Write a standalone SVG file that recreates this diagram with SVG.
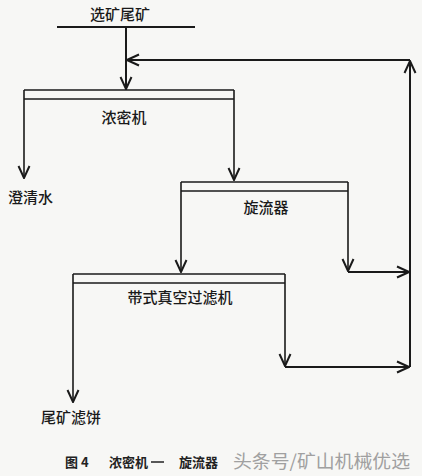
<svg xmlns="http://www.w3.org/2000/svg" width="422" height="476" viewBox="0 0 422 476">
<style>
.bg{fill:#f7f7f5}
.ln{fill:none;stroke:#1a1a1a;stroke-width:2}
.bx{fill:none;stroke:#1a1a1a;stroke-width:1.6}
.t{font-family:"Noto Sans CJK SC","Noto Sans",sans-serif;font-size:15px;fill:#1a1a1a;font-weight:500}
.cap{font-family:"Noto Sans CJK SC","Noto Sans",sans-serif;font-size:13px;fill:#222;font-weight:bold}
.wm{font-family:"Noto Sans CJK SC","Noto Sans",sans-serif;font-size:18px;fill:#a0a0a0}
</style>
<defs>
<marker id="ah" viewBox="0 0 14 14" refX="13" refY="7" markerWidth="14" markerHeight="14" markerUnits="userSpaceOnUse" orient="auto">
<path d="M1,1.5 L13,7 L1,12.5" fill="none" stroke="#1a1a1a" stroke-width="2"/>
</marker>
</defs>
<rect class="bg" x="0" y="0" width="422" height="476"/>
<g id="feed">
<line class="ln" x1="57" y1="27" x2="195" y2="27"/>
<text class="t" x="120" y="20" text-anchor="middle">选矿尾矿</text>
</g>
<g id="thickener">
<line class="bx" x1="24" y1="90" x2="234" y2="90"/>
<line class="bx" x1="24" y1="99" x2="234" y2="99"/>
<text class="t" x="124" y="123" text-anchor="middle">浓密机</text>
</g>
<g id="clear-water">
<text class="t" x="8" y="203">澄清水</text>
</g>
<g id="cyclone">
<line class="bx" x1="181" y1="182" x2="348" y2="182"/>
<line class="bx" x1="181" y1="191" x2="348" y2="191"/>
<text class="t" x="266" y="213" text-anchor="middle">旋流器</text>
</g>
<g id="filter">
<line class="bx" x1="73" y1="274" x2="285" y2="274"/>
<line class="bx" x1="73" y1="283" x2="285" y2="283"/>
<text class="t" x="180" y="303" text-anchor="middle">带式真空过滤机</text>
</g>
<g id="cake">
<text class="t" x="41" y="423">尾矿滤饼</text>
</g>
<g id="connectors">
<line class="ln" x1="126" y1="27" x2="126" y2="89" marker-end="url(#ah)"/>
<line class="ln" x1="410" y1="60" x2="127" y2="60" marker-end="url(#ah)"/>
<line class="ln" x1="410" y1="367" x2="410" y2="61" marker-end="url(#ah)"/>
<line class="bx" x1="24" y1="90" x2="24" y2="178" marker-end="url(#ah)"/>
<line class="bx" x1="234" y1="90" x2="234" y2="180" marker-end="url(#ah)"/>
<line class="bx" x1="181" y1="182" x2="181" y2="272" marker-end="url(#ah)"/>
<line class="bx" x1="348" y1="182" x2="348" y2="271" marker-end="url(#ah)"/>
<line class="ln" x1="348" y1="272" x2="409" y2="272" marker-end="url(#ah)"/>
<line class="bx" x1="73" y1="274" x2="73" y2="402" marker-end="url(#ah)"/>
<line class="bx" x1="285" y1="274" x2="285" y2="366" marker-end="url(#ah)"/>
<line class="ln" x1="285" y1="367" x2="409" y2="367" marker-end="url(#ah)"/>
</g>
<g id="caption">
<text class="cap" x="65" y="467">图 4</text>
<text class="cap" x="109" y="467">浓密机</text>
<line x1="151" y1="462" x2="164" y2="462" stroke="#222" stroke-width="1.5"/>
<text class="cap" x="179" y="467">旋流器</text>
<text class="wm" x="233" y="468" textLength="177" lengthAdjust="spacingAndGlyphs">头条号/矿山机械优选</text>
</g>
</svg>
